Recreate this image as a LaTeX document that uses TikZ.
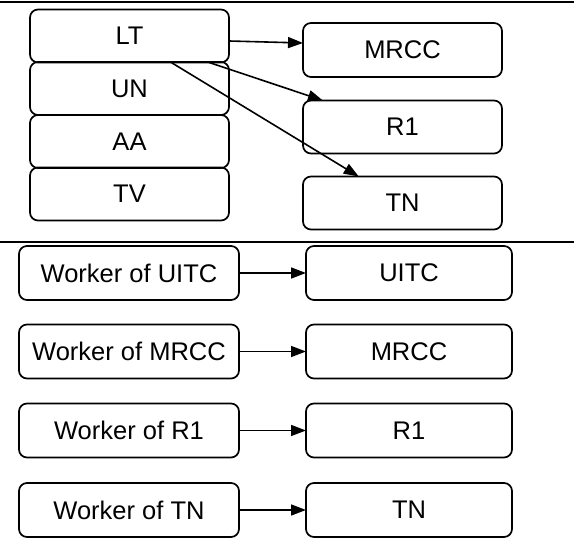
\documentclass[tikz,border=0pt]{standalone}
\usepackage{fontspec}
\setmainfont{Liberation Sans}
\usepackage{tikz}
\usetikzlibrary{positioning,arrows.meta,calc}

\tikzset{
  box/.style={draw, rounded corners=8pt, line width=1.7pt, outer sep=0pt,
    minimum height=53pt, font=\fontsize{25.5}{30}\selectfont},
  link/.style={line width=1.6pt, -{Triangle[length=15pt,width=11pt]}}
}

\begin{document}
\begin{tikzpicture}[x=1pt, y=1pt]
\useasboundingbox (0,0) rectangle (574,541);

% Separators
\draw[line width=2.8pt] (0,539) -- (574,539);
\draw[line width=2.8pt] (0,299) -- (574,299);

% Upper part: stacked boxes
\node[box, minimum width=199pt] (lt) at (129.5,505) {LT};
\node[box, minimum width=199pt] (un) at (129.5,452.5) {UN};
\node[box, minimum width=199pt] (aa) at (129.5,399.5) {AA};
\node[box, minimum width=199pt] (tv) at (129.5,347) {TV};

% Upper part: targets
\node[box, minimum width=199pt, minimum height=54pt] (mrcc) at (402.5,491) {MRCC};
\node[box, minimum width=199pt] (rone) at (402.5,414) {R1};
\node[box, minimum width=199pt] (tn) at (402.5,338) {TN};

\draw[link] ($(lt.east)+(0,-5)$) -- ($(mrcc.west)+(0,7)$);
\draw[link] ($(lt.south west)!0.9!(lt.south east)$) -- ($(rone.north west)!0.1!(rone.north east)$);
\draw[link] ($(lt.south west)!0.71!(lt.south east)$) -- ($(tn.north west)!0.28!(tn.north east)$);

% Lower part: workers
\foreach \name/\txt/\y in {wuitc/UITC/268, wmrcc/MRCC/189.5, wrone/R1/110.5, wtn/TN/31} {
    \node[box, minimum width=220pt, minimum height=54pt] (\name) at (129,\y) {Worker of \txt};
    \node[box, minimum width=206pt, minimum height=54pt] (\name-t) at (409,\y) {\txt};
    \draw[link] (\name) -- (\name-t);
}

\end{tikzpicture}
\end{document}
